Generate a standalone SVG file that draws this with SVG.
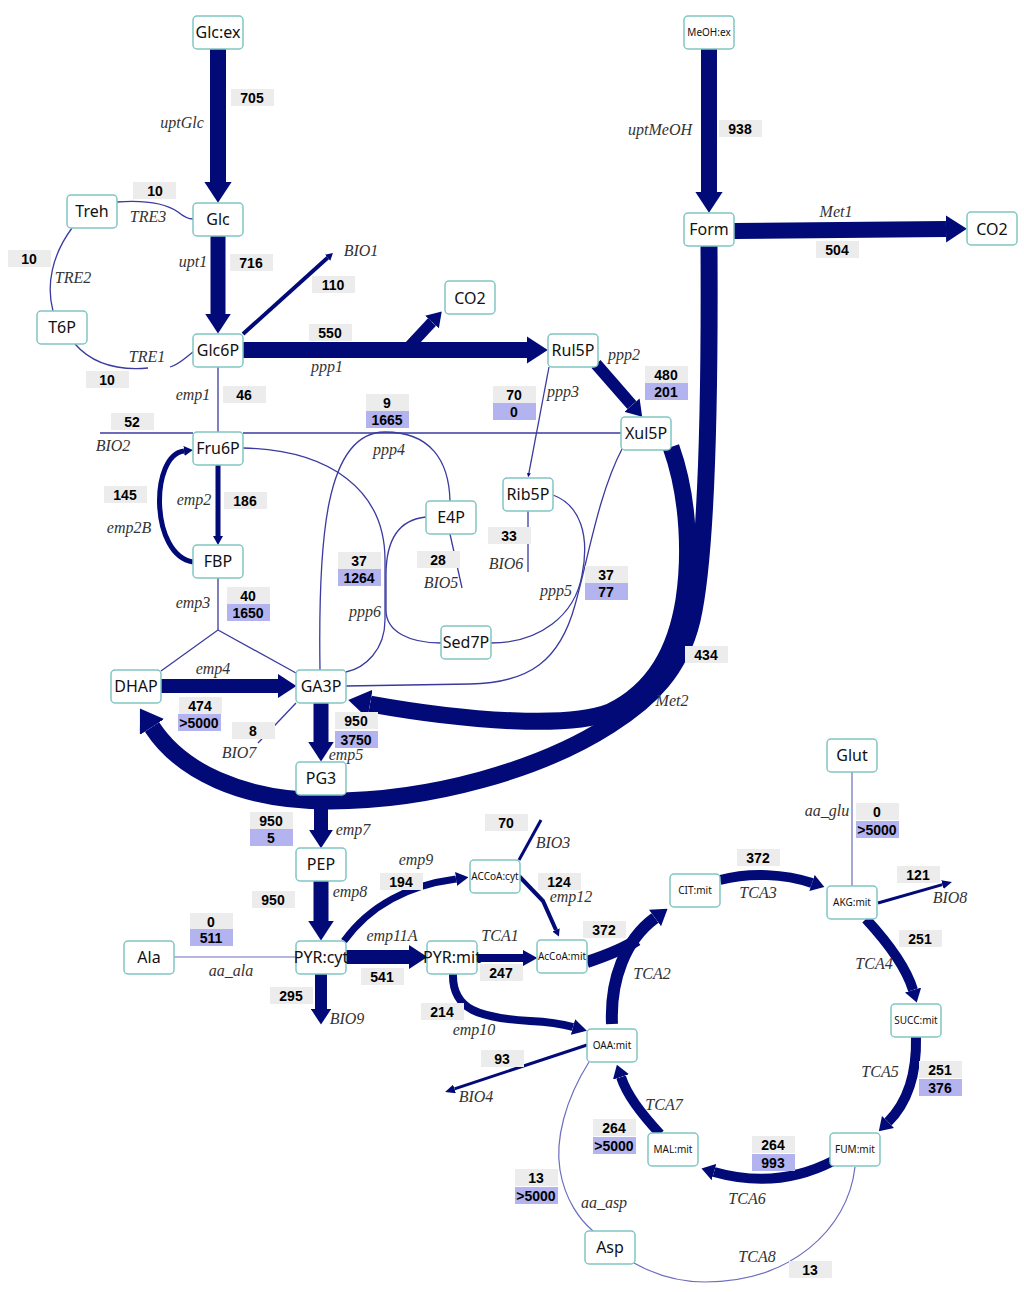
<svg xmlns="http://www.w3.org/2000/svg" width="1024" height="1292" viewBox="0 0 1024 1292">
<defs>
<style>
.nb{fill:#fff;stroke:#80c6c2;stroke-width:1.5}
.nt{font-family:"Noto Sans","Open Sans","DejaVu Sans",sans-serif;font-size:16px;fill:#111;text-anchor:middle}
.ns{font-size:10px}
.k{fill:none;stroke:#020a78}
.t{fill:none;stroke:#3a3aa0;stroke-width:1.3}
.l{fill:none;stroke:#6c6cc0;stroke-width:1.2}
.g{fill:#ececec}
.p{fill:#b3b3f0}
.vt{font-family:"Liberation Sans",Arial,sans-serif;font-weight:bold;font-size:14px;fill:#000;text-anchor:middle}
.r{font-family:"Liberation Serif","Times New Roman",serif;font-style:italic;font-size:16px;fill:#333;text-anchor:middle}
</style>
<marker id="ah" viewBox="0 0 10 10" refX="0" refY="5" markerWidth="1.3" markerHeight="1.7" orient="auto" preserveAspectRatio="none"><path d="M0,0 L10,5 L0,10 z" fill="#020a78"/></marker>
<marker id="ahm" viewBox="0 0 10 10" refX="0" refY="5" markerWidth="1.8" markerHeight="2" orient="auto" preserveAspectRatio="none"><path d="M0,0 L10,5 L0,10 z" fill="#020a78"/></marker>
<marker id="aht" viewBox="0 0 10 10" refX="0" refY="5" markerWidth="3.3" markerHeight="3" orient="auto" preserveAspectRatio="none"><path d="M0,0 L10,5 L0,10 z" fill="#020a78"/></marker>
</defs>
<rect width="1024" height="1292" fill="#fff"/>

<g id="connectors">
<path class="k" stroke-width="16" d="M218,49 V182" marker-end="url(#ah)"/>
<path class="k" stroke-width="15" d="M218,236 V314" marker-end="url(#ah)"/>
<path class="k" stroke-width="4" d="M243,334 L327.6,257.8" marker-end="url(#ahm)"/>
<path class="t" d="M117,202 C145,200 165,203 178,212 C184,217 188,219 193,219"/>
<path class="t" d="M72,228 C52,255 46,285 53,311"/>
<path class="t" d="M75,344 C95,367 125,370 148,368"/>
<path class="t" d="M170,367 C180,364 187,356 193,352"/>
<path class="k" stroke-width="16" d="M243,350 H527" marker-end="url(#ah)"/>
<path class="k" stroke-width="11" d="M405,351 L432,322" marker-end="url(#ah)"/>
<path class="k" stroke-width="12" d="M596,364 L631.9,405.1" marker-end="url(#ah)"/>
<path class="t" stroke-width="1.5" d="M549,367 L528.9,473.1" marker-end="url(#aht)"/>
<path class="t" d="M218,367 V432"/>
<path class="t" d="M100,433 H193"/>
<path class="t" d="M243,433 L621,433"/>
<path class="t" d="M320,670 C318,540 325,432 385,432 C430,432 449,460 450,501"/>
<path class="t" d="M243,448 C330,450 385,490 385,560 L385,620 C385,650 365,668 346,672"/>
<path class="t" d="M426,517 C395,520 386,545 386,575 L386,610 C386,632 410,643 441,643"/>
<path class="t" d="M553,495 C580,505 590,535 582,575 C575,615 540,643 491,643"/>
<path class="t" d="M622,449 C598,495 588,560 575,605 C560,660 530,683 470,684 C420,685 370,686 346,686"/>
<path class="t" d="M450,534 L462,588"/>
<path class="t" d="M528,511 V572"/>
<path class="k" stroke-width="5" d="M218,465 V536" marker-end="url(#ahm)"/>
<path class="k" stroke-width="5" d="M193,562 C150,555 150,455 184,451" marker-end="url(#ahm)"/>
<path class="t" d="M218,578 V630 L161,671 M218,630 L296,673"/>
<path class="k" stroke-width="14" d="M161,686 H278" marker-end="url(#ah)"/>
<path class="t" d="M296,703 L258,743"/>
<path class="k" stroke-width="15" d="M321,703 V742" marker-end="url(#ah)"/>
<path class="k" stroke-width="17" d="M709,246 C710,420 706,560 692,620 C680,670 650,700 610,725 C540,770 430,801 330,801 C240,801 180,770 152,727" marker-end="url(#ah)"/>
<path class="k" stroke-width="17" d="M671,447 C690,500 690,560 684,600 C676,650 655,690 610,712 C570,728 470,722 370,704" marker-end="url(#ah)"/>
<path class="k" stroke-width="14" d="M321,795 V830" marker-end="url(#ah)"/>
<path class="k" stroke-width="15" d="M321,881 V921" marker-end="url(#ah)"/>
<path class="k" stroke-width="7" d="M344,941 C370,905 410,885 456,879" marker-end="url(#ahm)"/>
<path class="k" stroke-width="3" d="M519,860 L541,820"/>
<path class="k" stroke-width="4" d="M519,876 L543,901 L556,930" marker-end="url(#ahm)"/>
<path class="k" stroke-width="14" d="M346,957 H409" marker-end="url(#ah)"/>
<path class="l" d="M174,957 H296"/>
<path class="k" stroke-width="12" d="M321,974 V1009" marker-end="url(#ah)"/>
<path class="k" stroke-width="8" d="M477,958 H523" marker-end="url(#ahm)"/>
<path class="k" stroke-width="8" d="M453,974 C452,1010 480,1018 530,1021 C550,1022 562,1024 573,1027" marker-end="url(#ahm)"/>
<path class="k" stroke-width="12" d="M587,962 C605,956 622,950 637,940"/>
<path class="k" stroke-width="12" d="M612,1024 C610,980 625,940 655,918" marker-end="url(#ah)"/>
<path class="k" stroke-width="10" d="M720,880 C750,872 785,874 812,883" marker-end="url(#ah)"/>
<path class="l" stroke="#8080c8" d="M852,772 V886"/>
<path class="k" stroke-width="3" d="M878,903 L942.4,884.6" marker-end="url(#aht)"/>
<path class="k" stroke-width="10" d="M866,919 C890,945 907,970 913,990" marker-end="url(#ah)"/>
<path class="k" stroke-width="10" d="M916,1037 C917,1080 905,1105 888,1122" marker-end="url(#ah)"/>
<path class="k" stroke-width="10" d="M833,1161 C800,1178 760,1185 714,1172" marker-end="url(#ah)"/>
<path class="k" stroke-width="10" d="M660,1134 C640,1112 627,1095 621,1077" marker-end="url(#ah)"/>
<path class="k" stroke-width="3" d="M587,1045 L454.5,1088.9" marker-end="url(#aht)"/>
<path class="l" d="M589,1062 C565,1100 555,1140 560,1170 C565,1200 580,1220 593,1231"/>
<path class="l" d="M855,1167 C848,1230 790,1282 705,1282 C675,1282 650,1272 634,1263"/>
<path class="k" stroke-width="16" d="M709,49 V192" marker-end="url(#ah)"/>
<path class="k" stroke-width="16" d="M734,231 L946,229" marker-end="url(#ah)"/>
</g>

<g id="nodes">
<g id="n-Glcex"><rect class="nb" x="193" y="16" width="50" height="33" rx="4"/><text class="nt" x="218" y="38">Glc:ex</text></g>
<g id="n-Glc"><rect class="nb" x="193" y="203" width="50" height="33" rx="4"/><text class="nt" x="218" y="225">Glc</text></g>
<g id="n-Treh"><rect class="nb" x="67" y="195" width="50" height="33" rx="4"/><text class="nt" x="92" y="217">Treh</text></g>
<g id="n-T6P"><rect class="nb" x="37" y="311" width="50" height="33" rx="4"/><text class="nt" x="62" y="333">T6P</text></g>
<g id="n-Glc6P"><rect class="nb" x="193" y="334" width="50" height="33" rx="4"/><text class="nt" x="218" y="356">Glc6P</text></g>
<g id="n-CO2a"><rect class="nb" x="445" y="281" width="50" height="33" rx="4"/><text class="nt" x="470" y="304" font-size="18">CO2</text></g>
<g id="n-MeOHex"><rect class="nb" x="684" y="16" width="50" height="33" rx="4"/><text class="nt ns" x="709" y="36">MeOH:ex</text></g>
<g id="n-Form"><rect class="nb" x="684" y="213" width="50" height="33" rx="4"/><text class="nt" x="709" y="235">Form</text></g>
<g id="n-CO2b"><rect class="nb" x="967" y="212" width="50" height="33" rx="4"/><text class="nt" x="992" y="235" font-size="19">CO2</text></g>
<g id="n-Rul5P"><rect class="nb" x="548" y="334" width="50" height="33" rx="4"/><text class="nt" x="573" y="356">Rul5P</text></g>
<g id="n-Xul5P"><rect class="nb" x="621" y="417" width="50" height="33" rx="4"/><text class="nt" x="646" y="439">Xul5P</text></g>
<g id="n-Fru6P"><rect class="nb" x="193" y="432" width="50" height="33" rx="4"/><text class="nt" x="218" y="454">Fru6P</text></g>
<g id="n-E4P"><rect class="nb" x="426" y="501" width="50" height="33" rx="4"/><text class="nt" x="451" y="523">E4P</text></g>
<g id="n-Rib5P"><rect class="nb" x="503" y="478" width="50" height="33" rx="4"/><text class="nt" x="528" y="500">Rib5P</text></g>
<g id="n-FBP"><rect class="nb" x="193" y="545" width="50" height="33" rx="4"/><text class="nt" x="218" y="567">FBP</text></g>
<g id="n-Sed7P"><rect class="nb" x="441" y="626" width="50" height="33" rx="4"/><text class="nt" x="466" y="648">Sed7P</text></g>
<g id="n-DHAP"><rect class="nb" x="111" y="670" width="50" height="33" rx="4"/><text class="nt" x="136" y="692">DHAP</text></g>
<g id="n-GA3P"><rect class="nb" x="296" y="670" width="50" height="33" rx="4"/><text class="nt" x="321" y="692">GA3P</text></g>
<g id="n-PG3"><rect class="nb" x="296" y="762" width="50" height="33" rx="4"/><text class="nt" x="321" y="784">PG3</text></g>
<g id="n-PEP"><rect class="nb" x="296" y="848" width="50" height="33" rx="4"/><text class="nt" x="321" y="870">PEP</text></g>
<g id="n-Glut"><rect class="nb" x="827" y="739" width="50" height="33" rx="4"/><text class="nt" x="852" y="761">Glut</text></g>
<g id="n-ACCoAcyt"><rect class="nb" x="470" y="860" width="50" height="33" rx="4"/><text class="nt ns" x="495" y="880">ACCoA:cyt</text></g>
<g id="n-CITmit"><rect class="nb" x="670" y="874" width="50" height="33" rx="4"/><text class="nt ns" x="695" y="894">CIT:mit</text></g>
<g id="n-AKGmit"><rect class="nb" x="827" y="886" width="50" height="33" rx="4"/><text class="nt ns" x="852" y="906">AKG:mit</text></g>
<g id="n-Ala"><rect class="nb" x="124" y="941" width="50" height="33" rx="4"/><text class="nt" x="149" y="963">Ala</text></g>
<g id="n-PYRcyt"><rect class="nb" x="296" y="941" width="50" height="33" rx="4"/><text class="nt" x="321" y="963">PYR:cyt</text></g>
<g id="n-PYRmit"><rect class="nb" x="427" y="941" width="50" height="33" rx="4"/><text class="nt" x="452" y="963">PYR:mit</text></g>
<g id="n-AcCoAmit"><rect class="nb" x="537" y="940" width="50" height="33" rx="4"/><text class="nt ns" x="562" y="960">AcCoA:mit</text></g>
<g id="n-SUCCmit"><rect class="nb" x="891" y="1004" width="50" height="33" rx="4"/><text class="nt ns" x="916" y="1024">SUCC:mit</text></g>
<g id="n-OAAmit"><rect class="nb" x="587" y="1029" width="50" height="33" rx="4"/><text class="nt ns" x="612" y="1049">OAA:mit</text></g>
<g id="n-MALmit"><rect class="nb" x="648" y="1133" width="50" height="33" rx="4"/><text class="nt ns" x="673" y="1153">MAL:mit</text></g>
<g id="n-FUMmit"><rect class="nb" x="830" y="1133" width="50" height="33" rx="4"/><text class="nt ns" x="855" y="1153">FUM:mit</text></g>
<g id="n-Asp"><rect class="nb" x="585" y="1231" width="50" height="33" rx="4"/><text class="nt" x="610" y="1253">Asp</text></g>
</g>

<g id="flux-values">
<rect class="g" x="231" y="89" width="43" height="17"/><text class="vt" x="252" y="103">705</text>
<rect class="g" x="133" y="182" width="43" height="17"/><text class="vt" x="155" y="196">10</text>
<rect class="g" x="230" y="254" width="43" height="17"/><text class="vt" x="251" y="268">716</text>
<rect class="g" x="8" y="250" width="43" height="17"/><text class="vt" x="29" y="264">10</text>
<rect class="g" x="312" y="276" width="43" height="17"/><text class="vt" x="333" y="290">110</text>
<rect class="g" x="309" y="324" width="43" height="17"/><text class="vt" x="330" y="338">550</text>
<rect class="g" x="86" y="371" width="43" height="17"/><text class="vt" x="107" y="385">10</text>
<rect class="g" x="719" y="120" width="43" height="17"/><text class="vt" x="740" y="134">938</text>
<rect class="g" x="816" y="241" width="43" height="17"/><text class="vt" x="837" y="255">504</text>
<rect class="g" x="645" y="366" width="43" height="17"/><text class="vt" x="666" y="380">480</text>
<rect class="p" x="645" y="383" width="43" height="17"/><text class="vt" x="666" y="397">201</text>
<rect class="g" x="493" y="386" width="43" height="17"/><text class="vt" x="514" y="400">70</text>
<rect class="p" x="493" y="403" width="43" height="17"/><text class="vt" x="514" y="417">0</text>
<rect class="g" x="223" y="386" width="43" height="17"/><text class="vt" x="244" y="400">46</text>
<rect class="g" x="111" y="413" width="43" height="17"/><text class="vt" x="132" y="427">52</text>
<rect class="g" x="366" y="394" width="43" height="17"/><text class="vt" x="387" y="408">9</text>
<rect class="p" x="366" y="411" width="43" height="17"/><text class="vt" x="387" y="425">1665</text>
<rect class="g" x="104" y="486" width="43" height="17"/><text class="vt" x="125" y="500">145</text>
<rect class="g" x="224" y="492" width="43" height="17"/><text class="vt" x="245" y="506">186</text>
<rect class="g" x="488" y="527" width="43" height="17"/><text class="vt" x="509" y="541">33</text>
<rect class="g" x="417" y="551" width="43" height="17"/><text class="vt" x="438" y="565">28</text>
<rect class="g" x="338" y="552" width="43" height="17"/><text class="vt" x="359" y="566">37</text>
<rect class="p" x="338" y="569" width="43" height="17"/><text class="vt" x="359" y="583">1264</text>
<rect class="g" x="585" y="566" width="43" height="17"/><text class="vt" x="606" y="580">37</text>
<rect class="p" x="585" y="583" width="43" height="17"/><text class="vt" x="606" y="597">77</text>
<rect class="g" x="227" y="587" width="43" height="17"/><text class="vt" x="248" y="601">40</text>
<rect class="p" x="227" y="604" width="43" height="17"/><text class="vt" x="248" y="618">1650</text>
<rect class="g" x="685" y="646" width="43" height="17"/><text class="vt" x="706" y="660">434</text>
<rect class="g" x="179" y="697" width="43" height="17"/><text class="vt" x="200" y="711">474</text>
<rect class="p" x="178" y="714" width="43" height="17"/><text class="vt" x="199" y="728">&gt;5000</text>
<rect class="g" x="232" y="722" width="43" height="17"/><text class="vt" x="253" y="736">8</text>
<rect class="g" x="335" y="712" width="43" height="17"/><text class="vt" x="356" y="726">950</text>
<rect class="p" x="335" y="731" width="43" height="17"/><text class="vt" x="356" y="745">3750</text>
<rect class="g" x="250" y="812" width="43" height="17"/><text class="vt" x="271" y="826">950</text>
<rect class="p" x="250" y="829" width="43" height="17"/><text class="vt" x="271" y="843">5</text>
<rect class="g" x="252" y="891" width="43" height="17"/><text class="vt" x="273" y="905">950</text>
<rect class="g" x="485" y="814" width="43" height="17"/><text class="vt" x="506" y="828">70</text>
<rect class="g" x="380" y="873" width="43" height="17"/><text class="vt" x="401" y="887">194</text>
<rect class="g" x="538" y="873" width="43" height="17"/><text class="vt" x="559" y="887">124</text>
<rect class="g" x="190" y="913" width="43" height="17"/><text class="vt" x="211" y="927">0</text>
<rect class="p" x="190" y="929" width="43" height="17"/><text class="vt" x="211" y="943">511</text>
<rect class="g" x="583" y="921" width="43" height="17"/><text class="vt" x="604" y="935">372</text>
<rect class="g" x="361" y="968" width="43" height="17"/><text class="vt" x="382" y="982">541</text>
<rect class="g" x="480" y="964" width="43" height="17"/><text class="vt" x="501" y="978">247</text>
<rect class="g" x="270" y="987" width="43" height="17"/><text class="vt" x="291" y="1001">295</text>
<rect class="g" x="421" y="1003" width="43" height="17"/><text class="vt" x="442" y="1017">214</text>
<rect class="g" x="481" y="1050" width="43" height="17"/><text class="vt" x="502" y="1064">93</text>
<rect class="g" x="737" y="849" width="43" height="17"/><text class="vt" x="758" y="863">372</text>
<rect class="g" x="856" y="803" width="43" height="17"/><text class="vt" x="877" y="817">0</text>
<rect class="p" x="856" y="821" width="43" height="17"/><text class="vt" x="877" y="835">&gt;5000</text>
<rect class="g" x="897" y="866" width="43" height="17"/><text class="vt" x="918" y="880">121</text>
<rect class="g" x="899" y="930" width="43" height="17"/><text class="vt" x="920" y="944">251</text>
<rect class="g" x="919" y="1061" width="43" height="17"/><text class="vt" x="940" y="1075">251</text>
<rect class="p" x="919" y="1079" width="43" height="17"/><text class="vt" x="940" y="1093">376</text>
<rect class="g" x="593" y="1119" width="43" height="17"/><text class="vt" x="614" y="1133">264</text>
<rect class="p" x="593" y="1137" width="43" height="17"/><text class="vt" x="614" y="1151">&gt;5000</text>
<rect class="g" x="752" y="1136" width="43" height="17"/><text class="vt" x="773" y="1150">264</text>
<rect class="p" x="752" y="1154" width="43" height="17"/><text class="vt" x="773" y="1168">993</text>
<rect class="g" x="515" y="1169" width="43" height="17"/><text class="vt" x="536" y="1183">13</text>
<rect class="p" x="515" y="1187" width="43" height="17"/><text class="vt" x="536" y="1201">&gt;5000</text>
<rect class="g" x="789" y="1261" width="43" height="17"/><text class="vt" x="810" y="1275">13</text>
</g>

<g id="reaction-names">
<text class="r" x="182" y="128">uptGlc</text>
<text class="r" x="148" y="222">TRE3</text>
<text class="r" x="193" y="267">upt1</text>
<text class="r" x="73" y="283">TRE2</text>
<text class="r" x="361" y="256">BIO1</text>
<text class="r" x="147" y="362">TRE1</text>
<text class="r" x="327" y="372">ppp1</text>
<text class="r" x="660" y="135">uptMeOH</text>
<text class="r" x="836" y="217">Met1</text>
<text class="r" x="624" y="360">ppp2</text>
<text class="r" x="563" y="397">ppp3</text>
<text class="r" x="193" y="400">emp1</text>
<text class="r" x="113" y="451">BIO2</text>
<text class="r" x="389" y="455">ppp4</text>
<text class="r" x="194" y="505">emp2</text>
<text class="r" x="129" y="533">emp2B</text>
<text class="r" x="506" y="569">BIO6</text>
<text class="r" x="441" y="588">BIO5</text>
<text class="r" x="556" y="596">ppp5</text>
<text class="r" x="365" y="617">ppp6</text>
<text class="r" x="193" y="608">emp3</text>
<text class="r" x="213" y="674">emp4</text>
<text class="r" x="672" y="706">Met2</text>
<text class="r" x="239" y="758">BIO7</text>
<text class="r" x="346" y="760">emp5</text>
<text class="r" x="353" y="835">emp7</text>
<text class="r" x="416" y="865">emp9</text>
<text class="r" x="350" y="897">emp8</text>
<text class="r" x="553" y="848">BIO3</text>
<text class="r" x="571" y="902">emp12</text>
<text class="r" x="392" y="941">emp11A</text>
<text class="r" x="500" y="941">TCA1</text>
<text class="r" x="231" y="976">aa_ala</text>
<text class="r" x="347" y="1024">BIO9</text>
<text class="r" x="652" y="979">TCA2</text>
<text class="r" x="474" y="1035">emp10</text>
<text class="r" x="476" y="1102">BIO4</text>
<text class="r" x="827" y="816">aa_glu</text>
<text class="r" x="758" y="898">TCA3</text>
<text class="r" x="950" y="903">BIO8</text>
<text class="r" x="874" y="969">TCA4</text>
<text class="r" x="880" y="1077">TCA5</text>
<text class="r" x="664" y="1110">TCA7</text>
<text class="r" x="747" y="1204">TCA6</text>
<text class="r" x="604" y="1208">aa_asp</text>
<text class="r" x="757" y="1262">TCA8</text>
</g>
</svg>
